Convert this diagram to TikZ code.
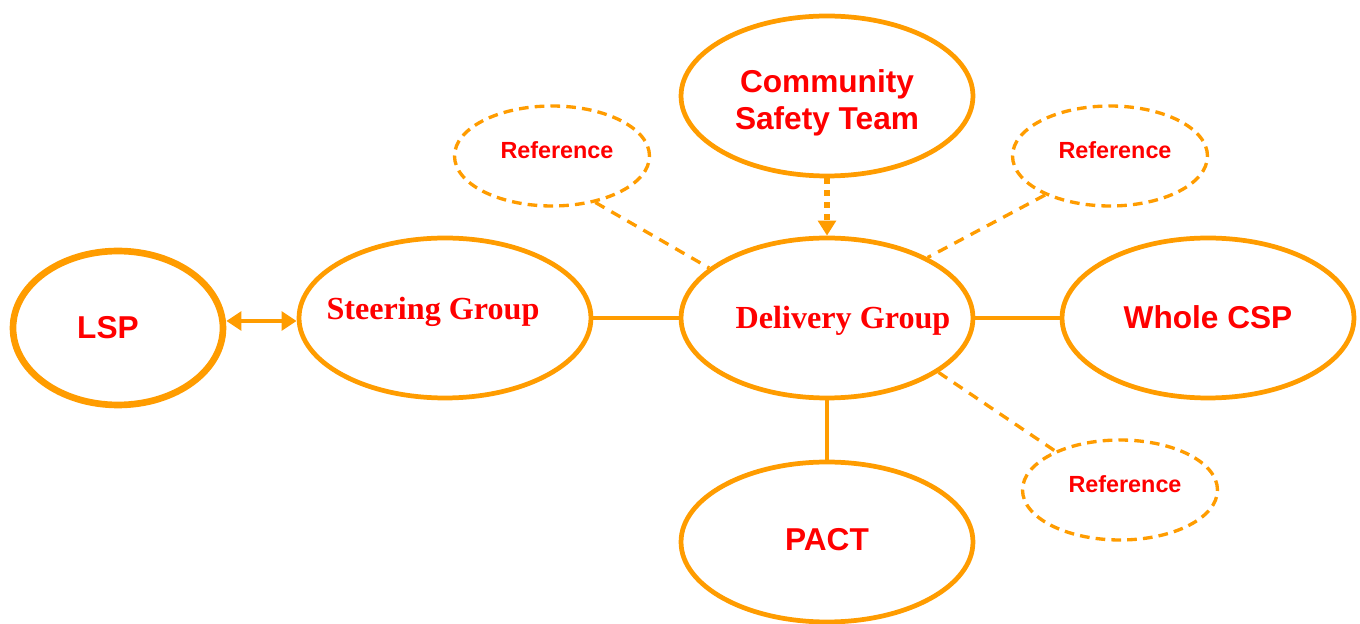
\documentclass[tikz,border=0pt]{standalone}
\usepackage{fontspec}
\setmainfont{Liberation Serif}
\setsansfont{Liberation Sans}
\usetikzlibrary{shapes.geometric,arrows.meta}
\definecolor{org}{HTML}{FF9C00}
\definecolor{txt}{HTML}{FF0000}
\begin{document}
\begin{tikzpicture}[x=0.02cm,y=-0.02cm,
  big/.style={ellipse, draw=org, line width=2.7pt, inner sep=0pt,
    minimum width=5.84cm, minimum height=3.2cm},
  refell/.style={ellipse, draw=org, line width=1.9pt, dash pattern=on 5.5pt off 3.5pt,
    inner sep=0pt, minimum width=3.9cm, minimum height=2.0cm},
  sanslbl/.style={text=txt, font=\sffamily\bfseries\fontsize{18}{21}\selectfont, align=center},
  seriflbl/.style={text=txt, font=\rmfamily\bfseries\fontsize{18.3}{21}\selectfont},
  reflbl/.style={text=txt, font=\sffamily\bfseries\fontsize{13.3}{15}\selectfont},
  conn/.style={draw=org, line width=2.7pt},
  dashconn/.style={draw=org, line width=1.9pt, dash pattern=on 6pt off 4.5pt}
]
\useasboundingbox (0,0) rectangle (1360,624);

\node[big, line width=3.8pt, minimum width=4.2cm, minimum height=3.08cm,
  label={[sanslbl, xshift=-0.2cm]center:LSP}] (lsp) at (118,328) {};
\node[big, label={[seriflbl, xshift=-0.24cm, yshift=0.12cm]center:Steering Group}] (steer) at (445,318) {};
\node[big, label={[seriflbl, xshift=0.32cm, yshift=-0.06cm]center:Delivery Group}] (deliv) at (827,318) {};
\node[big, label={[sanslbl, yshift=-0.14cm]center:Community\\Safety Team}] (cst) at (827,96) {};
\node[big, label={[sanslbl, yshift=0.02cm]center:Whole CSP}] (csp) at (1208,318) {};
\node[big, label={[sanslbl, yshift=0.04cm]center:PACT}] (pact) at (827,542) {};

\node[refell, label={[reflbl, xshift=0.1cm, yshift=0.12cm]center:Reference}] (ref1) at (552,156) {};
\node[refell, label={[reflbl, xshift=0.1cm, yshift=0.12cm]center:Reference}] (ref2) at (1110,156) {};
\node[refell, label={[reflbl, xshift=0.1cm, yshift=0.12cm]center:Reference}] (ref3) at (1120,490) {};

\draw[conn, {Triangle[length=8.5pt,width=10.5pt]}-{Triangle[length=8.5pt,width=10.5pt]}]
  (lsp.east |- 0,321) -- (steer.west |- 0,321);
\draw[conn] (steer.east) -- (deliv.west);
\draw[conn] (deliv.east) -- (csp.west);
\draw[conn] (deliv.south) -- (pact.north);
\draw[draw=org, line width=3.4pt, dash pattern=on 3.4pt off 3.4pt,
  -{Triangle[length=8.5pt,width=10pt]}] (cst.south) -- (deliv.north);

\draw[dashconn] (ref1.-47) -- (deliv.157);
\draw[dashconn] (ref2.-149) -- (deliv.31);
\draw[dashconn] (deliv.-26) -- (ref3.149);
\end{tikzpicture}
\end{document}
